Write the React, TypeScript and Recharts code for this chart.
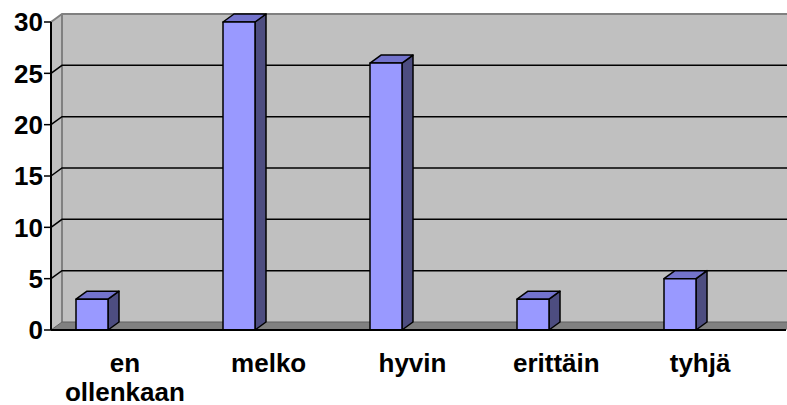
import React from 'react';
import { ComposedChart, Bar, XAxis, YAxis, CartesianGrid } from 'recharts';

const categories = ['en ollenkaan', 'melko', 'hyvin', 'erittäin', 'tyhjä'];
const answers = [3, 30, 26, 3, 5];
const yTicks = [0, 5, 10, 15, 20, 25, 30];
const bandEdges = [0, 1, 2, 3, 4, 5];

const rows = categories.map((name, idx) => ({ name, idx, value: answers[idx] }));

// 3D depth of the walls and columns
const DX = 11;
const DY = 8;
// columns sit toward the front-left of each category slot
const BAR_SHIFT = -33;

const FONT = '"Liberation Sans", Arial, sans-serif';

const WallGridLine = (props: any) => {
    const { x1, x2, y1, y, height, index } = props;
    const bottom = y + height;
    const inner = y1 > y + 0.5 && y1 < bottom - 0.5;
    return (
        <g key={`wall-${index}`}>
            {index === 0 && (
                <g>
                    <polygon
                        points={`${x1},${y} ${x1 + DX},${y - DY} ${x1 + DX},${bottom - DY} ${x1},${bottom}`}
                        fill="#c0c0c0"
                    />
                    <rect x={x1 + DX} y={y - DY} width={x2 - x1} height={height} fill="#c0c0c0" />
                    <polygon
                        points={`${x1},${bottom} ${x1 + DX},${bottom - DY} ${x2 + DX},${bottom - DY} ${x2},${bottom}`}
                        fill="#808080"
                    />
                    <polyline
                        points={`${x1},${y} ${x1 + DX},${y - DY} ${x2 + DX},${y - DY}`}
                        fill="none"
                        stroke="#808080"
                        strokeWidth={2}
                    />
                    <line x1={x1 + DX} y1={y - DY} x2={x1 + DX} y2={bottom - DY} stroke="#808080" strokeWidth={2} />
                    <polyline
                        points={`${x1},${bottom} ${x1 + DX},${bottom - DY} ${x2 + DX},${bottom - DY}`}
                        fill="none"
                        stroke="#606060"
                        strokeWidth={1}
                    />
                </g>
            )}
            {inner && (
                <polyline
                    points={`${x1},${y1} ${x1 + DX},${y1 - DY} ${x2 + DX},${y1 - DY}`}
                    fill="none"
                    stroke="#000"
                    strokeWidth={1.5}
                />
            )}
        </g>
    );
};

const Column3D = (props: any) => {
    const { x, y, width, height } = props;
    if (height == null || height <= 0) return null;
    const fx = x + BAR_SHIFT;
    const r = fx + width;
    const b = y + height;
    return (
        <g stroke="#000" strokeWidth={1.5} strokeLinejoin="round">
            <polygon points={`${r},${y} ${r + DX},${y - DY} ${r + DX},${b - DY} ${r},${b}`} fill="#4d4d80" />
            <polygon points={`${fx},${y} ${fx + DX},${y - DY} ${r + DX},${y - DY} ${r},${y}`} fill="#7373cc" />
            <rect x={fx} y={y} width={width} height={height} fill="#9999ff" />
        </g>
    );
};

const CategoryTick = (props: any) => {
    const { x, y, payload } = props;
    const words = String(payload.value).split(' ');
    return (
        <text
            x={x}
            y={y}
            textAnchor="middle"
            fontFamily={FONT}
            fontWeight="bold"
            fontSize={26}
            fill="#000"
        >
            {words.map((w, i) => (
                <tspan key={w} x={x} y={y + 34 + i * 29}>
                    {w}
                </tspan>
            ))}
        </text>
    );
};

export default function App() {
    return (
        <div style={{ position: 'absolute', left: 0, top: 0, background: '#fff' }}>
            <ComposedChart
                width={787}
                height={405}
                data={rows}
                margin={{ top: 22, right: 1, left: 0, bottom: 0 }}
            >
                <CartesianGrid horizontal={WallGridLine} vertical={false} />
                <XAxis dataKey="name" hide height={0} />
                <XAxis
                    xAxisId="frame"
                    type="number"
                    dataKey="idx"
                    domain={[0, 5]}
                    ticks={bandEdges}
                    tick={false}
                    tickSize={7}
                    tickLine={{ stroke: '#000', strokeWidth: 1.5 }}
                    axisLine={{ stroke: '#000', strokeWidth: 2 }}
                    height={8}
                />
                <XAxis
                    xAxisId="labels"
                    dataKey="name"
                    axisLine={false}
                    tickLine={false}
                    tickSize={0}
                    tickMargin={0}
                    padding={{ left: 2, right: 14 }}
                    tick={<CategoryTick />}
                    interval={0}
                    height={67}
                />
                <YAxis
                    domain={[0, 30]}
                    ticks={yTicks}
                    width={51}
                    tickSize={7}
                    tickMargin={1}
                    tickLine={{ stroke: '#000', strokeWidth: 1.5 }}
                    axisLine={{ stroke: '#000', strokeWidth: 2 }}
                    tick={{ fill: '#000', fontSize: 26, fontWeight: 'bold', fontFamily: FONT }}
                />
                <Bar dataKey="value" barSize={32} shape={<Column3D />} isAnimationActive={false} />
            </ComposedChart>
        </div>
    );
}
